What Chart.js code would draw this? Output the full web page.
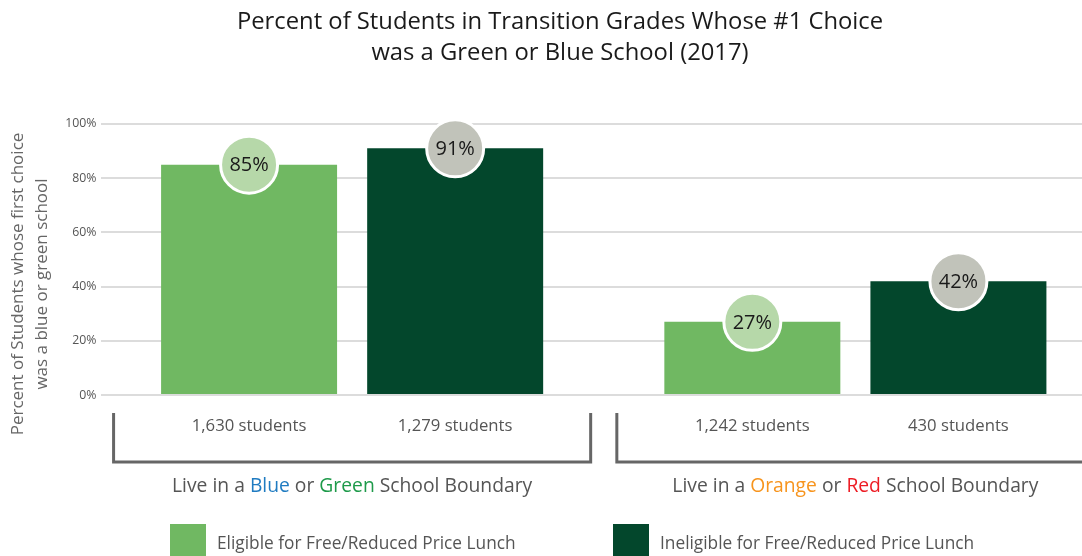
<!DOCTYPE html>
<html>
<head>
<meta charset="utf-8">
<script src="https://cdn.jsdelivr.net/npm/chart.js@4"></script>
<style>
html, body { margin: 0; padding: 0; background: #fff; overflow: hidden; }
/* chart runs a little past the right edge of the window, as in the source */
#wrap { position: relative; width: 1107px; height: 556px; }
</style>
</head>
<body>
<div id="wrap"><canvas id="chart"></canvas></div>
<script>
const categories = ["Live in a Blue or Green School Boundary", "Live in a Orange or Red School Boundary"];
const seriesNames = ["Eligible for Free/Reduced Price Lunch", "Ineligible for Free/Reduced Price Lunch"];
const eligibleValues = [85, 27];
const ineligibleValues = [91, 42];
const eligibleStudents = [1630, 1242];
const ineligibleStudents = [1279, 430];
const yTicks = [0, 20, 40, 60, 80, 100];
const titleLines = ["Percent of Students in Transition Grades Whose #1 Choice", "was a Green or Blue School (2017)"];
const yTitleLines = ["Percent of Students whose first choice", "was a blue or green school"];

const FONT = "'Open Sans', 'Noto Sans', sans-serif";
const wordColors = { Blue: "#1f7bc1", Green: "#1e9a4a", Orange: "#f7941d", Red: "#ed1c24" };
const circleColors = ["#b6d8a9", "#c1c3ba"];
const studentCounts = [eligibleStudents, ineligibleStudents];

const extras = {
    id: "extras",
    afterDatasetsDraw(chart) {
        const ctx = chart.ctx;
        chart.data.datasets.forEach((ds, d) => {
            chart.getDatasetMeta(d).data.forEach((bar, i) => {
                ctx.save();
                ctx.beginPath();
                ctx.arc(bar.x, bar.y, 28.5, 0, Math.PI * 2);
                ctx.fillStyle = circleColors[d];
                ctx.fill();
                ctx.lineWidth = 3;
                ctx.strokeStyle = "#fff";
                ctx.stroke();
                ctx.fillStyle = "#1a1a1a";
                ctx.font = "20px " + FONT;
                ctx.textAlign = "center";
                ctx.textBaseline = "middle";
                ctx.fillText(ds.data[i] + "%", bar.x, bar.y + 1);
                ctx.restore();
            });
        });
    },
    afterDraw(chart) {
        const ctx = chart.ctx;
        const xs = chart.scales.x;
        const area = chart.chartArea;
        const catW = (xs.right - xs.left) / categories.length;
        ctx.save();

        // y axis title
        ctx.fillStyle = "#666";
        ctx.font = "17px " + FONT;
        ctx.textAlign = "center";
        ctx.textBaseline = "middle";
        yTitleLines.forEach((t, k) => {
            ctx.save();
            ctx.translate(18 + k * 24, 284);
            ctx.rotate(-Math.PI / 2);
            ctx.fillText(t, 0, 0);
            ctx.restore();
        });

        // brackets and group labels
        categories.forEach((cat, i) => {
            const cx = xs.getPixelForValue(i);
            const half = catW * 0.474;
            const top = area.bottom + 18, bot = area.bottom + 67;
            ctx.beginPath();
            ctx.moveTo(cx - half, top);
            ctx.lineTo(cx - half, bot);
            ctx.lineTo(cx + half, bot);
            ctx.lineTo(cx + half, top);
            ctx.lineWidth = 3;
            ctx.strokeStyle = "#666";
            ctx.stroke();

            ctx.font = "19.3px " + FONT;
            ctx.textAlign = "left";
            const words = cat.split(" ");
            const total = ctx.measureText(cat).width;
            let x = cx - total / 2;
            const space = ctx.measureText(" ").width;
            words.forEach(w => {
                ctx.fillStyle = wordColors[w] || "#555";
                ctx.fillText(w, x, area.bottom + 92);
                x += ctx.measureText(w).width + space;
            });
        });

        // student counts under each bar
        ctx.font = "16.7px " + FONT;
        ctx.textAlign = "center";
        ctx.fillStyle = "#555";
        chart.data.datasets.forEach((ds, d) => {
            chart.getDatasetMeta(d).data.forEach((bar, i) => {
                ctx.fillText(studentCounts[d][i].toLocaleString("en-US") + " students", bar.x, area.bottom + 31);
            });
        });

        // legend
        const legendX = [170, 613];
        chart.data.datasets.forEach((ds, d) => {
            ctx.fillStyle = ds.backgroundColor;
            ctx.fillRect(legendX[d], 524, 36, 40);
            ctx.fillStyle = "#555";
            ctx.font = "17.3px " + FONT;
            ctx.textAlign = "left";
            ctx.fillText(ds.label, legendX[d] + 47, 544);
        });
        ctx.restore();
    }
};

new Chart(document.getElementById("chart"), {
    type: "bar",
    data: {
        labels: categories,
        datasets: [{
            label: seriesNames[0],
            data: eligibleValues,
            backgroundColor: "#70b862",
            categoryPercentage: 0.819,
            barPercentage: 0.854
        }, {
            label: seriesNames[1],
            data: ineligibleValues,
            backgroundColor: "#03472c",
            categoryPercentage: 0.819,
            barPercentage: 0.854
        }]
    },
    options: {
        responsive: true,
        maintainAspectRatio: false,
        animation: false,
        layout: { padding: { left: 13, right: 0, top: 0, bottom: 161 } },
        plugins: {
            legend: { display: false },
            tooltip: { enabled: false },
            title: {
                display: true,
                text: titleLines,
                color: "#1a1a1a",
                font: { family: FONT, size: 23.8, weight: "normal", lineHeight: 1.3 },
                padding: { top: 6.5, bottom: 55.6 }
            }
        },
        scales: {
            x: { display: false },
            y: {
                min: 0,
                max: 100,
                afterFit(scale) { scale.width = 87.5; },
                afterBuildTicks(scale) { scale.ticks = yTicks.map(v => ({ value: v })); },
                ticks: {
                    padding: 4,
                    color: "#555",
                    font: { family: FONT, size: 12.3 },
                    callback: v => v + "%"
                },
                grid: { color: "#dcdcdc", lineWidth: 2, drawTicks: false },
                border: { display: false }
            }
        }
    },
    plugins: [extras]
});
</script>
</body>
</html>
